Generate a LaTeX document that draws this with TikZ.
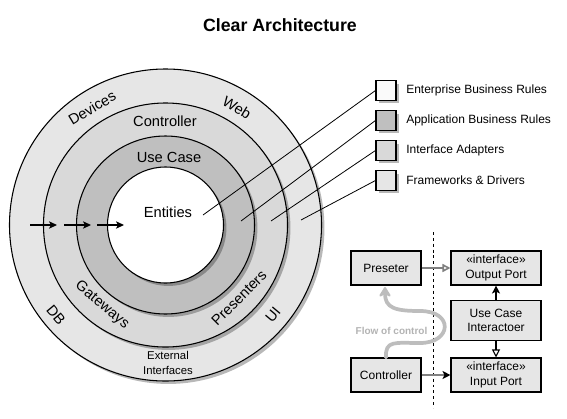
\documentclass[tikz,border=0pt]{standalone}
\usepackage{fontspec}
\setmainfont{Liberation Sans}
\usetikzlibrary{arrows.meta,shadows}
\definecolor{ringA}{HTML}{E6E6E6}
\definecolor{ringB}{HTML}{D9D9D9}
\definecolor{ringC}{HTML}{BFBFBF}
\definecolor{entw}{HTML}{FFFFFF}
\definecolor{legw}{HTML}{FAFAFA}
\definecolor{boxg}{HTML}{E6E6E6}
\definecolor{flowg}{HTML}{BDBDBD}
\definecolor{flowt}{HTML}{B3B3B3}
\definecolor{linkg}{HTML}{808080}
\tikzset{
  shd/.style={drop shadow={shadow xshift=2.2pt,shadow yshift=-2.2pt,opacity=0.28,fill=black}},
  ring/.style={circle,draw=black,line width=0.8pt,inner sep=0pt,shd},
  lbl/.style={font=\fontsize{11}{13}\selectfont,inner sep=0pt},
  legbox/.style={draw=black,line width=0.8pt,minimum width=15pt,minimum height=14.5pt,inner sep=0pt,shd},
  legtxt/.style={font=\fontsize{9}{11}\selectfont,anchor=west,inner sep=0pt},
  rbox/.style={draw=black,line width=0.8pt,fill=boxg,inner sep=0pt,align=center,font=\fontsize{9}{11}\selectfont},
  inarrow/.style={line width=0.8pt,-{Stealth[length=6pt,width=5.5pt,inset=1.5pt]}},
  legline/.style={line width=0.6pt},
}
\begin{document}
\begin{tikzpicture}[x=0.75pt,y=-0.75pt]
\useasboundingbox (0,0) rectangle (567,418);
% title
\node[font=\fontsize{13.3}{15}\selectfont\bfseries] (title) at (280,25) {Clear Architecture};
% circles
\node[ring,fill=ringA,minimum size=234pt] (outer) at (165.5,225) {};
\node[ring,fill=ringB,minimum size=183pt] (ctrlring) at (165.5,225) {};
\node[ring,fill=ringC,minimum size=133.5pt] (ucring) at (165.5,225) {};
\node[ring,fill=entw,minimum size=87pt] (ent) at (165.5,225) {};
% ring labels
\node[lbl,rotate=31] (devices) at (92,108) {Devices};
\node[lbl,rotate=-31] (web) at (237,108) {Web};
\node[lbl] (controllerlbl) at (165,121) {Controller};
\node[lbl] (usecaselbl) at (169,157) {Use Case};
\node[lbl] (entities) at (168,212) {Entities};
\node[lbl,rotate=-50] (db) at (56,315) {DB};
\node[lbl,rotate=-40] (gateways) at (102,305) {Gateways};
\node[lbl,rotate=45] (presenters) at (239,298) {Presenters};
\node[lbl,rotate=50] (ui) at (273,315) {UI};
\node[font=\fontsize{8.5}{11.5}\selectfont,align=center,inner sep=0pt] (extif) at (168,363) {External\\Interfaces};
% inward arrows
\coordinate (a1s) at (30,225); \coordinate (a1e) at (57,225);
\coordinate (a2s) at (64,225); \coordinate (a2e) at (91,225);
\coordinate (a3s) at (97,225); \coordinate (a3e) at (124,225);
\draw[inarrow] (a1s) -- (a1e);
\draw[inarrow] (a2s) -- (a2e);
\draw[inarrow] (a3s) -- (a3e);
% legend
\node[legbox,fill=legw] (lg1) at (386,90.5) {};
\node[legbox,fill=ringC] (lg2) at (386,120.5) {};
\node[legbox,fill=ringB] (lg3) at (386,150.5) {};
\node[legbox,fill=ringA] (lg4) at (386,180.5) {};
\node[legtxt] (lt1) at (406,90.5) {Enterprise Business Rules};
\node[legtxt] (lt2) at (406,120.5) {Application Business Rules};
\node[legtxt] (lt3) at (406,150.5) {Interface Adapters};
\node[legtxt] (lt4) at (406,180.5) {Frameworks \& Drivers};
\coordinate (e1) at (203,215);
\coordinate (e2) at (241,221);
\coordinate (e3) at (271,221);
\coordinate (e4) at (301,220);
\draw[legline] (e1) -- (lg1.west);
\draw[legline] (e2) -- (lg2.west);
\draw[legline] (e3) -- (lg3.west);
\draw[legline] (e4) -- (lg4.west);
% right diagram
\coordinate (dtop) at (433,232);
\coordinate (dbot) at (433,408);
\draw[line width=0.6pt,dash pattern=on 2.2pt off 2.2pt] (dtop) -- (dbot);
\node[rbox,minimum width=52.5pt,minimum height=25.5pt] (pres) at (386,268) {Preseter};
\node[rbox,minimum width=67.5pt,minimum height=25.5pt] (outp) at (496,268) {«interface»\\Output Port};
\node[rbox,minimum width=67.5pt,minimum height=29.5pt] (uci) at (496,320.5) {Use Case\\Interactoer};
\node[rbox,minimum width=67.5pt,minimum height=25.5pt] (inp) at (496,375) {«interface»\\Input Port};
\node[rbox,minimum width=52.5pt,minimum height=25.5pt] (ctrl) at (386,375) {Controller};
% flow of control
\draw[flowg,line width=2.8pt,line cap=round,-{Stealth[length=9pt,width=11pt,inset=3pt,round]}]
  (ctrl.north) .. controls (385,340) and (395,343) .. (420,343)
  .. controls (452,343) and (454,311) .. (420,311)
  .. controls (395,311) and (385,308) .. (385,287);
\node[font=\fontsize{7.5}{9}\selectfont\bfseries,text=flowt,inner sep=0pt] (flowlbl) at (391.5,331) {Flow of control};
% connectors
\draw[linkg,line width=1.2pt,-{Triangle[open,length=6pt,width=6pt,fill=white]}] (pres.east) -- (outp.west);
\draw[linkg,line width=1.2pt,-{Stealth[length=6pt,width=6pt,inset=1.5pt,color=black]}] (ctrl.east) -- (inp.west);
\draw[line width=0.8pt,-{Stealth[length=6pt,width=6pt,inset=1.5pt]}] (uci.north) -- (outp.south);
\draw[line width=0.8pt,-{Triangle[open,length=6pt,width=6pt,fill=white]}] (uci.south) -- (inp.north);
\end{tikzpicture}
\end{document}
